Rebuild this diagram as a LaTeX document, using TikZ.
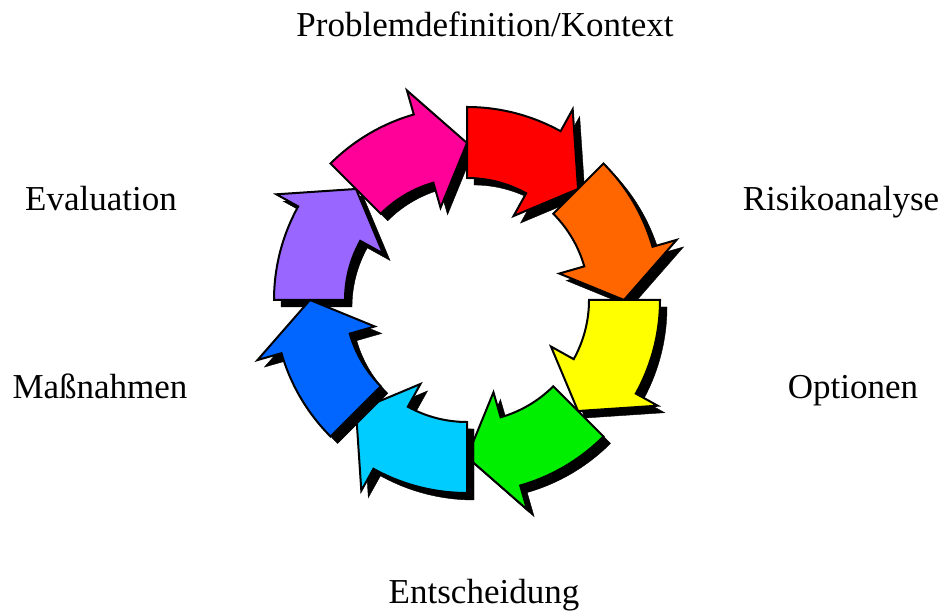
\documentclass[tikz,border=0pt]{standalone}
\usepackage{fontspec}
\setmainfont{Liberation Serif}
\usetikzlibrary{calc}
\definecolor{cycpurple}{HTML}{9966FF}
\definecolor{cycpink}{HTML}{FF0099}
\definecolor{cycred}{HTML}{FF0000}
\definecolor{cycorange}{HTML}{FF6600}
\definecolor{cycyellow}{HTML}{FFFF00}
\definecolor{cycgreen}{HTML}{00EE00}
\definecolor{cyccyan}{HTML}{00CCFF}
\definecolor{cycblue}{HTML}{0066FF}
\tikzset{
  cycarr/.style = {draw=black, line width=2pt, line join=miter,
                   preaction={fill=black, draw=black,
                              transform canvas={shift={(7pt,-7pt)}}}},
  cyclbl/.style = {font=\fontsize{35}{42}\selectfont, inner sep=0pt,
                   anchor=base},
}

\begin{document}
\begin{tikzpicture}[x=1pt, y=1pt]
        \useasboundingbox (0,0) rectangle (944,610);
        \coordinate (ring) at (467,310);

        \foreach \a/\c in {180/cycpurple, 135/cycpink, 90/cycred, 45/cycorange,
                           0/cycyellow, -45/cycgreen, -90/cyccyan, -135/cycblue}
            \draw[cycarr, fill=\c, shift={(ring)}]
                 (\a:193) arc[start angle=\a, end angle=\a-29, radius=193]
                 -- ({\a-29}:218) -- ({\a-45}:157) -- ({\a-29}:96)
                 -- ({\a-29}:122) arc[start angle=\a-29, end angle=\a, radius=122]
                 -- cycle;

        \node[cyclbl] (problem)  at (485,573) {Problemdefinition/Kontext};
        \node[cyclbl] (risk)     at (841,399) {Risikoanalyse};
        \node[cyclbl] (options)  at (853,211) {Optionen};
        \node[cyclbl] (decision) at (484,7)   {Entscheidung};
        \node[cyclbl] (measures) at (100,211) {Maßnahmen};
        \node[cyclbl] (eval)     at (101,399) {Evaluation};
    \end{tikzpicture}
\end{document}
